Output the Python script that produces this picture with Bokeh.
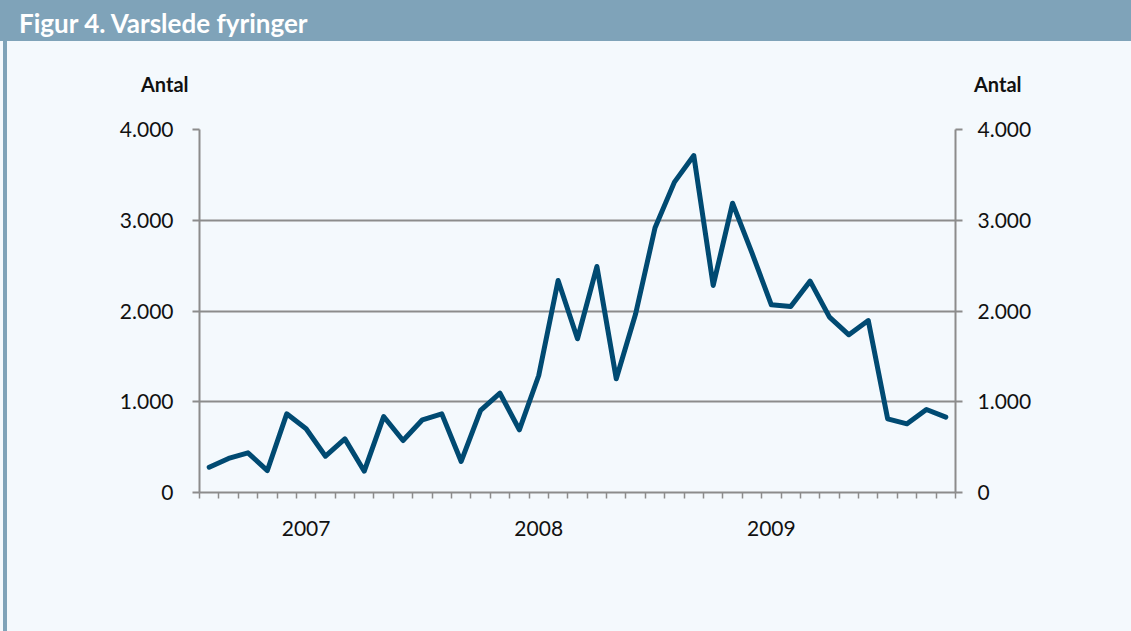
from bokeh.plotting import figure
from bokeh.models import FixedTicker, LinearAxis, Div, Range1d
from bokeh.layouts import column, row
from bokeh.embed import file_html
from bokeh.resources import INLINE

# ---- data -------------------------------------------------------------
title_text = "Figur 4. Varslede fyringer"
axis_title = "Antal"
months = [f"{2007 + i // 12}-{i % 12 + 1:02d}" for i in range(39)]  # 2007-01 .. 2010-03
values = [279, 375, 437, 242, 867, 702, 400, 591, 235, 837,
          573, 801, 867, 342, 904, 1094, 691, 1289, 2336, 1694,
          2490, 1253, 1969, 2917, 3420, 3713, 2281, 3188, 2640, 2068,
          2050, 2329, 1932, 1738, 1895, 812, 757, 915, 830]
year_labels = ["2007", "2008", "2009"]
y_ticks = [0, 1000, 2000, 3000, 4000]
y_tick_labels = ["0", "1.000", "2.000", "3.000", "4.000"]

# ---- style ------------------------------------------------------------
BAR = "#7fa3b9"
BG = "#f4f9fd"
LINE = "#004a72"
GRAY = "#8c8c8c"
TXT = "#111111"
FONT = "Lato"

W, H = 1131, 631
TITLE_H = 41
PAD_W, STRIPE_W = 3, 4
HEAD_H = 55
FIG_W = W - PAD_W - STRIPE_W
FIG_H = H - TITLE_H - HEAD_H

x = list(range(len(months)))
year_pos = [months.index(f"{y}-06") for y in year_labels]

p = figure(width=FIG_W, height=FIG_H,
           x_range=Range1d(-0.5, len(months) - 0.5),
           y_range=Range1d(y_ticks[0], y_ticks[-1]),
           output_backend="svg", toolbar_location=None,
           min_border_left=192, min_border_right=176,
           min_border_top=33, min_border_bottom=139,
           background_fill_color=BG, border_fill_color=BG,
           outline_line_color=None, margin=0)

# x axis
xa = p.xaxis[0]
xa.ticker = FixedTicker(ticks=year_pos, minor_ticks=[i - 0.5 for i in range(len(months) + 1)])
xa.major_label_overrides = {pos: lbl for pos, lbl in zip(year_pos, year_labels)}
xa.major_tick_out = 0
xa.major_tick_in = 0
xa.minor_tick_out = 6
xa.minor_tick_in = 0
xa.minor_tick_line_color = GRAY
xa.minor_tick_line_width = 1.5
xa.axis_line_color = GRAY
xa.axis_line_width = 2
xa.major_label_text_font = FONT
xa.major_label_text_font_size = "21px"
xa.major_label_text_color = TXT
xa.major_label_standoff = 22
p.xgrid.visible = False

# y grid
p.ygrid.ticker = FixedTicker(ticks=y_ticks)
p.ygrid.grid_line_color = GRAY
p.ygrid.grid_line_width = 2

def style_y(ax, standoff):
    ax.ticker = FixedTicker(ticks=y_ticks, minor_ticks=[])
    ax.major_label_overrides = {t: l for t, l in zip(y_ticks, y_tick_labels)}
    ax.major_tick_out = 7
    ax.major_tick_in = 0
    ax.major_tick_line_color = GRAY
    ax.major_tick_line_width = 2
    ax.minor_tick_line_color = None
    ax.axis_line_color = GRAY
    ax.axis_line_width = 2
    ax.major_label_text_font = FONT
    ax.major_label_text_font_size = "21px"
    ax.major_label_text_color = TXT
    ax.major_label_standoff = standoff

style_y(p.yaxis[0], 19)
ry = LinearAxis()
style_y(ry, 15)
p.add_layout(ry, "right")

p.line(x, values, line_color=LINE, line_width=5, line_join="round", line_cap="round")

# ---- surrounding page elements ---------------------------------------
title_div = Div(text=f'<span style="font-family:Lato;font-weight:bold;font-size:26px;'
                     f'line-height:30px;color:white;">{title_text}</span>',
                width=W, height=TITLE_H, margin=0,
                styles={"background-color": BAR, "color": "white", "font-family": FONT,
                        "font-weight": "bold", "font-size": "26px", "line-height": "30px",
                        "padding-left": "19px", "padding-top": "8px",
                        "box-sizing": "border-box", "overflow": "hidden"})

span_style = ("position:absolute;top:33px;font-family:Lato;font-weight:bold;"
              "font-size:20px;line-height:20px;color:#111111;white-space:nowrap;")
head_div = Div(text=(f'<div style="position:relative;width:{FIG_W}px;height:{HEAD_H}px;">'
                     f'<span style="{span_style}left:134px;">{axis_title}</span>'
                     f'<span style="{span_style}left:967px;">{axis_title}</span></div>'),
               width=FIG_W, height=HEAD_H, margin=0,
               styles={"background-color": BG})

pad = Div(text="", width=PAD_W, height=H - TITLE_H, margin=0, styles={"background-color": BG})
stripe = Div(text="", width=STRIPE_W, height=H - TITLE_H, margin=0, styles={"background-color": BAR})

inner = column(head_div, p, spacing=0, styles={"background-color": BG})
body = row(pad, stripe, inner, spacing=0, styles={"background-color": BG})
layout = column(title_div, body, spacing=0, styles={"background-color": BG})

open("out.html", "w").write(file_html(layout, INLINE))
